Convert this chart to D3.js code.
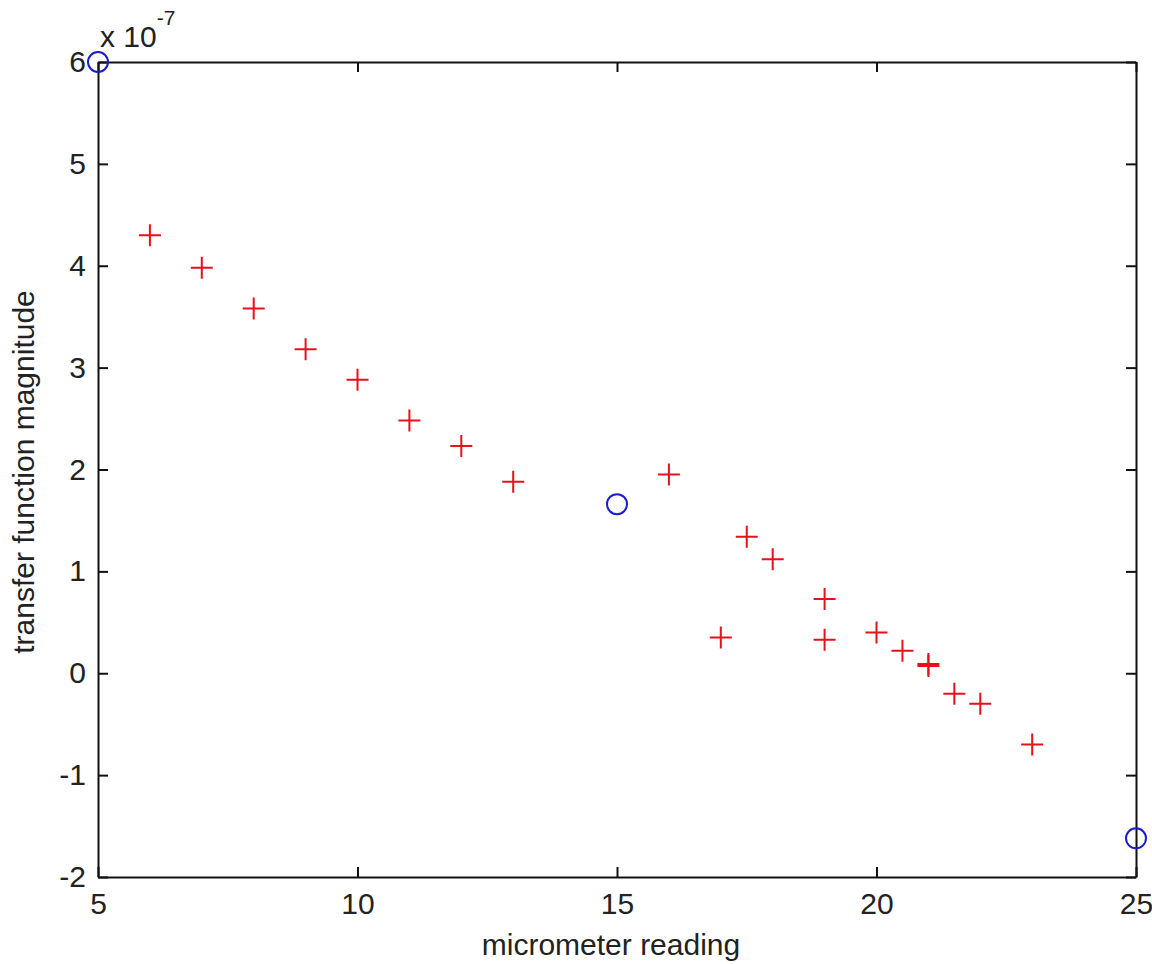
<!DOCTYPE html>
<html>
<head>
<meta charset="utf-8">
<script src="https://cdn.jsdelivr.net/npm/d3@7"></script>
<style>
  body { margin: 0; background: #fff; }
  text { font-family: "Liberation Sans", Arial, sans-serif; fill: #222; }
</style>
</head>
<body>
<script>
// data (values in transfer function magnitude units)
var plusX = [6, 7, 8, 9, 10, 11, 12, 13, 16, 17.5, 18, 17, 19, 19, 20, 20.5, 21, 21, 21.5, 22, 23];
var plusY = [4.30e-7, 3.98e-7, 3.58e-7, 3.18e-7, 2.88e-7, 2.48e-7, 2.23e-7, 1.88e-7, 1.95e-7, 1.34e-7, 1.12e-7,
             0.35e-7, 0.73e-7, 0.33e-7, 0.40e-7, 0.22e-7, 0.09e-7, 0.07e-7, -0.20e-7, -0.30e-7, -0.70e-7];
var circleX = [5, 15, 25];
var circleY = [6.0e-7, 1.66e-7, -1.62e-7];
var xTicks = [5, 10, 15, 20, 25];
var yTicks = [-2e-7, -1e-7, 0, 1e-7, 2e-7, 3e-7, 4e-7, 5e-7, 6e-7];

window.onload = drawChart();

function drawChart() {
    var width = 1152, height = 964;
    var left = 98, right = 1136, top = 62, bottom = 877;

    var svg = d3.select("body").append("svg")
        .attr("width", width)
        .attr("height", height);

    var x = d3.scaleLinear().domain([5, 25]).range([left, right]);
    var y = d3.scaleLinear().domain([-2e-7, 6e-7]).range([bottom, top]);

    var fmtY = function(d) { return Math.round(d / 1e-7); };

    //axes with inward ticks, MATLAB style
    var gx = svg.append("g").attr("transform", "translate(0," + bottom + ")")
        .call(d3.axisBottom(x).tickValues(xTicks).tickSizeInner(-10).tickSizeOuter(0).tickPadding(16));
    var gy = svg.append("g").attr("transform", "translate(" + left + ",0)")
        .call(d3.axisLeft(y).tickValues(yTicks).tickFormat(fmtY).tickSizeInner(-10).tickSizeOuter(0).tickPadding(12));
    var gt = svg.append("g").attr("transform", "translate(0," + top + ")")
        .call(d3.axisTop(x).tickValues(xTicks).tickFormat("").tickSizeInner(-10).tickSizeOuter(0));
    var gr = svg.append("g").attr("transform", "translate(" + right + ",0)")
        .call(d3.axisRight(y).tickValues(yTicks).tickFormat("").tickSizeInner(-10).tickSizeOuter(0));

    [gx, gy, gt, gr].forEach(function(g) {
        g.selectAll("path.domain").attr("stroke", "#111").attr("stroke-width", 2);
        g.selectAll(".tick line").attr("stroke", "#111").attr("stroke-width", 2);
        g.selectAll(".tick text").style("font-size", "30px").style("font-family", "Liberation Sans, Arial, sans-serif").attr("fill", "#222");
    });

    //exponent label
    var expo = svg.append("text").attr("x", 100).attr("y", 47).style("font-size", "30px");
    expo.append("tspan").text("x 10");
    expo.append("tspan").attr("dy", -22).style("font-size", "21px").text("-7");

    //axis labels
    svg.append("text")
        .attr("x", (left + right) / 2 - 6)
        .attr("y", 955)
        .attr("text-anchor", "middle")
        .style("font-size", "30px")
        .text("micrometer reading");

    svg.append("text")
        .attr("transform", "translate(34,472) rotate(-90)")
        .attr("text-anchor", "middle")
        .style("font-size", "30px")
        .text("transfer function magnitude");

    //red plus markers
    var plusData = plusX.map(function(d, i) { return [d, plusY[i]]; });
    svg.append("g").selectAll("path")
        .data(plusData)
        .enter()
        .append("path")
        .attr("d", function(d) {
            var px = x(d[0]), py = y(d[1]);
            return "M" + (px - 11) + "," + py + "h22M" + px + "," + (py - 11) + "v22";
        })
        .attr("stroke", "#e8101a")
        .attr("stroke-width", 2)
        .attr("fill", "none");

    //blue circle markers
    var circData = circleX.map(function(d, i) { return [d, circleY[i]]; });
    svg.append("g").selectAll("circle")
        .data(circData)
        .enter()
        .append("circle")
        .attr("cx", function(d) { return x(d[0]); })
        .attr("cy", function(d) { return y(d[1]); })
        .attr("r", 10)
        .attr("stroke", "#1c1cc8")
        .attr("stroke-width", 2)
        .attr("fill", "none");
}
</script>
</body>
</html>
